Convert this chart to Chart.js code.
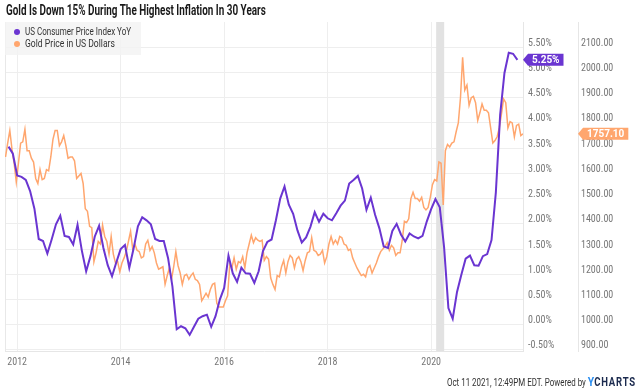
<!DOCTYPE html>
<html>
<head>
<meta charset="utf-8">
<script src="https://cdn.jsdelivr.net/npm/chart.js@4.4.0/dist/chart.umd.min.js"></script>
<style>
html, body { margin: 0; padding: 0; background: #fff; }
#wrap { position: relative; width: 640px; height: 389px; overflow: hidden; font-family: Roboto, 'Liberation Sans', sans-serif; }
#chart { position: absolute; left: 0; top: 0; }
.fit { position: absolute; white-space: nowrap; transform-origin: 0 50%; }
#title { left: 6px; top: 2px; font-size: 14px; font-weight: bold; color: #1a1a1a; }
#legend { position: absolute; left: 5px; top: 22px; width: 136px; height: 33px; background: rgba(243,243,243,0.8); }
.lg { font-size: 10.5px; color: #333; }
.dot { position: absolute; width: 6px; height: 6px; border-radius: 50%; }
#footer { top: 374px; font-size: 10px; color: #333; }
#footer .y { color: #2b8ef0; font-weight: bold; font-size: 13px; }
#footer .c { color: #1b2a4e; font-weight: bold; font-size: 12px; letter-spacing: 1px; }
</style>
</head>
<body>
<div id="wrap">
  <canvas id="chart" width="640" height="389"></canvas>
  <div id="title" class="fit">Gold Is Down 15% During The Highest Inflation In 30 Years</div>
  <div id="legend"></div>
  <div class="dot" style="left:14px;top:29px;background:#6a35d1"></div>
  <div id="lg1" class="fit lg" style="left:25px;top:25px">US Consumer Price Index YoY</div>
  <div class="dot" style="left:14px;top:41px;background:#ffa66e"></div>
  <div id="lg2" class="fit lg" style="left:25px;top:37px">Gold Price in US Dollars</div>
  <div id="footer" class="fit">Oct 11 2021, 12:49PM EDT. Powered by <span class="y">Y</span><span class="c">CHARTS</span></div>
</div>
<script>
// 시작 시점 (소수 연도)
const cpiStart = 2011 + 10 / 12;   // 2011년 10월 말, 월간
const goldStart = 2011.775;        // 2011-10-11, 반월 간격
const xMin = 2011.765;
const xMax = 2021.775;

// 미국 CPI 전년 대비 (%), 2011-10 ~ 2021-08
const cpiYoY = [
    3.53, 3.39, 2.96,
    2.93, 2.87, 2.65, 2.30, 1.70, 1.66, 1.41, 1.69, 1.99, 2.16, 1.76, 1.74,
    1.59, 1.98, 1.47, 1.06, 1.36, 1.75, 1.96, 1.52, 1.18, 0.96, 1.24, 1.50,
    1.58, 1.13, 1.51, 1.95, 2.13, 2.07, 1.99, 1.70, 1.66, 1.66, 1.32, 0.76,
    -0.09, -0.03, -0.07, -0.20, -0.04, 0.12, 0.17, 0.20, -0.04, 0.17, 0.50, 0.73,
    1.37, 1.02, 0.85, 1.13, 1.02, 1.01, 0.83, 1.06, 1.46, 1.64, 1.69, 2.07,
    2.50, 2.74, 2.38, 2.20, 1.87, 1.63, 1.73, 1.94, 2.23, 2.04, 2.20, 2.11,
    2.07, 2.21, 2.36, 2.46, 2.80, 2.87, 2.95, 2.70, 2.28, 2.52, 2.18, 1.91,
    1.55, 1.52, 1.86, 2.00, 1.79, 1.65, 1.81, 1.75, 1.71, 1.76, 2.05, 2.29,
    2.49, 2.33, 1.54, 0.33, 0.12, 0.65, 0.99, 1.31, 1.37, 1.18, 1.17, 1.36,
    1.40, 1.68, 2.62, 4.16, 4.99, 5.39, 5.37, 5.25
];

// 금 가격 (USD), 반월 간격, 2011-10 ~ 2021-10
const goldPrice = [
    1665, 1720, 1770, 1695, 1640, 1565, 1640, 1720, 1725, 1775, 1690, 1690,
    1660, 1645, 1580, 1560, 1615, 1575, 1580, 1615, 1610, 1665, 1735, 1770,
    1770, 1710, 1725, 1750, 1710, 1660, 1665, 1665, 1650, 1580, 1590, 1600,
    1560, 1460, 1450, 1390, 1385, 1250, 1285, 1330, 1320, 1395, 1350, 1330,
    1280, 1350, 1280, 1245, 1250, 1210, 1245, 1265, 1290, 1330, 1370, 1300,
    1320, 1295, 1290, 1265, 1270, 1320, 1335, 1295, 1310, 1285, 1245, 1220,
    1225, 1230, 1160, 1195, 1225, 1180, 1230, 1290, 1235, 1205, 1160, 1195,
    1200, 1180, 1195, 1205, 1180, 1175, 1160, 1095, 1110, 1125, 1110, 1140,
    1160, 1165, 1085, 1070, 1070, 1070, 1095, 1115, 1240, 1225, 1265, 1220,
    1250, 1245, 1270, 1225, 1285, 1320, 1355, 1325, 1345, 1335, 1330, 1335,
    1255, 1270, 1260, 1185, 1160, 1140, 1195, 1190, 1230, 1255, 1205, 1250,
    1275, 1265, 1225, 1260, 1270, 1250, 1215, 1255, 1285, 1290, 1345, 1295,
    1290, 1275, 1280, 1295, 1245, 1270, 1320, 1350, 1320, 1335, 1320, 1350,
    1345, 1320, 1315, 1295, 1300, 1265, 1245, 1225, 1210, 1195, 1200, 1190,
    1225, 1235, 1205, 1225, 1245, 1270, 1290, 1300, 1310, 1325, 1295, 1315,
    1305, 1275, 1285, 1285, 1335, 1410, 1405, 1420, 1500, 1525, 1500, 1500,
    1490, 1505, 1465, 1455, 1465, 1505, 1555, 1575, 1570, 1645, 1640, 1475,
    1690, 1715, 1705, 1720, 1725, 1765, 1800, 1900, 2060, 1930, 1950, 1870,
    1900, 1905, 1880, 1810, 1840, 1875, 1850, 1850, 1840, 1780, 1720, 1730,
    1745, 1780, 1835, 1895, 1880, 1780, 1805, 1800, 1745, 1790, 1795, 1750,
    1757.10
];

// 축 눈금
const yearTicks = [2012, 2014, 2016, 2018, 2020];
const pctTicks = [-0.5, 0, 0.5, 1, 1.5, 2, 2.5, 3, 3.5, 4, 4.5, 5, 5.5];
const priceTicks = [900, 1000, 1100, 1200, 1300, 1400, 1500, 1600, 1700, 1800, 1900, 2000, 2100];

// 경기침체 구간 (회색 음영)
const recession = [2020.097, 2020.252];

const purple = '#6a35d1';
const orange = '#ffa66e';
const tickFont = { size: 10, family: "'Roboto Condensed', 'Liberation Sans Narrow', Roboto, sans-serif" };

const cpiPoints = cpiYoY.map((v, i) => ({ x: cpiStart + i / 12, y: v }));
const goldPoints = goldPrice.map((v, i) => ({ x: goldStart + i / 24, y: v }));

const areaPlugin = {
    id: 'areaPlugin',
    beforeDatasetsDraw(chart) {
        const { ctx, chartArea, scales } = chart;
        ctx.save();
        const x1 = scales.x.getPixelForValue(recession[0]);
        const x2 = scales.x.getPixelForValue(recession[1]);
        ctx.fillStyle = '#e2e2e2';
        ctx.fillRect(x1, chartArea.top, x2 - x1, chartArea.bottom - chartArea.top);
        ctx.strokeStyle = '#e8e8e8';
        ctx.lineWidth = 1;
        ctx.beginPath();
        ctx.moveTo(chartArea.left + 0.5, chartArea.top);
        ctx.lineTo(chartArea.left + 0.5, chartArea.bottom);
        ctx.stroke();
        ctx.restore();
    }
};

function drawTag(ctx, left, cy, text, color) {
    ctx.font = 'bold 10px Roboto, sans-serif';
    const w = ctx.measureText(text).width + 8;
    const h = 12;
    ctx.fillStyle = color;
    ctx.beginPath();
    ctx.moveTo(left, cy);
    ctx.lineTo(left + 5, cy - h / 2);
    ctx.lineTo(left + 5 + w, cy - h / 2);
    ctx.lineTo(left + 5 + w, cy + h / 2);
    ctx.lineTo(left + 5, cy + h / 2);
    ctx.closePath();
    ctx.fill();
    ctx.fillStyle = '#fff';
    ctx.textAlign = 'left';
    ctx.textBaseline = 'middle';
    ctx.fillText(text, left + 9, cy + 0.5);
}

const tagPlugin = {
    id: 'tagPlugin',
    afterDraw(chart) {
        const { ctx, scales } = chart;
        ctx.save();
        const lastCpi = cpiYoY[cpiYoY.length - 1];
        const lastGold = goldPrice[goldPrice.length - 1];
        drawTag(ctx, scales.y.left, scales.y.getPixelForValue(lastCpi), lastCpi.toFixed(2) + '%', purple);
        drawTag(ctx, scales.y2.left, scales.y2.getPixelForValue(lastGold), lastGold.toFixed(2), orange);
        ctx.restore();
    }
};

new Chart(document.getElementById('chart'), {
    type: 'line',
    data: {
        datasets: [{
            label: 'US Consumer Price Index YoY',
            data: cpiPoints,
            yAxisID: 'y',
            borderColor: purple,
            borderWidth: 2,
            pointRadius: 0,
            tension: 0
        }, {
            label: 'Gold Price in US Dollars',
            data: goldPoints,
            yAxisID: 'y2',
            borderColor: orange,
            borderWidth: 1.5,
            pointRadius: 0,
            tension: 0
        }]
    },
    options: {
        responsive: false,
        animation: false,
        layout: { padding: { left: 5, top: 22, right: 0, bottom: 16 } },
        plugins: { legend: { display: false }, tooltip: { enabled: false } },
        scales: {
            x: {
                type: 'linear',
                min: xMin,
                max: xMax,
                afterBuildTicks: s => { s.ticks = yearTicks.map(v => ({ value: v })); },
                afterFit: s => { s.height = 22; },
                ticks: { callback: v => String(v), color: '#777', font: tickFont, padding: 5, maxRotation: 0, autoSkip: false },
                grid: { color: '#eeeeee', drawTicks: false },
                border: { color: '#e6e6e6' }
            },
            y: {
                position: 'right',
                weight: 0,
                min: -0.52,
                max: 6.0,
                afterBuildTicks: s => { s.ticks = pctTicks.map(v => ({ value: v })); },
                afterFit: s => { s.width = 55; },
                ticks: { callback: v => v.toFixed(2) + '%', color: '#777', font: tickFont, padding: 5, labelOffset: -4 },
                grid: { color: '#eeeeee', drawTicks: false },
                border: { color: '#e6e6e6' }
            },
            y2: {
                position: 'right',
                weight: 1,
                min: 896,
                max: 2200,
                afterBuildTicks: s => { s.ticks = priceTicks.map(v => ({ value: v })); },
                afterFit: s => { s.width = 62; },
                ticks: { callback: v => v.toFixed(2), color: '#777', font: tickFont, padding: 3, labelOffset: -4 },
                grid: { display: false, drawTicks: false },
                border: { color: '#e6e6e6' }
            }
        }
    },
    plugins: [areaPlugin, tagPlugin]
});

// 좁은 글꼴 대신 가로 폭 맞춤
function fitWidth(id, target) {
    const el = document.getElementById(id);
    el.style.transform = 'scaleX(' + (target / el.offsetWidth) + ')';
}
fitWidth('title', 260);
fitWidth('lg1', 106);
fitWidth('lg2', 90);
const footer = document.getElementById('footer');
const fw = 189;
footer.style.left = (636 - fw) + 'px';
fitWidth('footer', fw);
</script>
</body>
</html>
